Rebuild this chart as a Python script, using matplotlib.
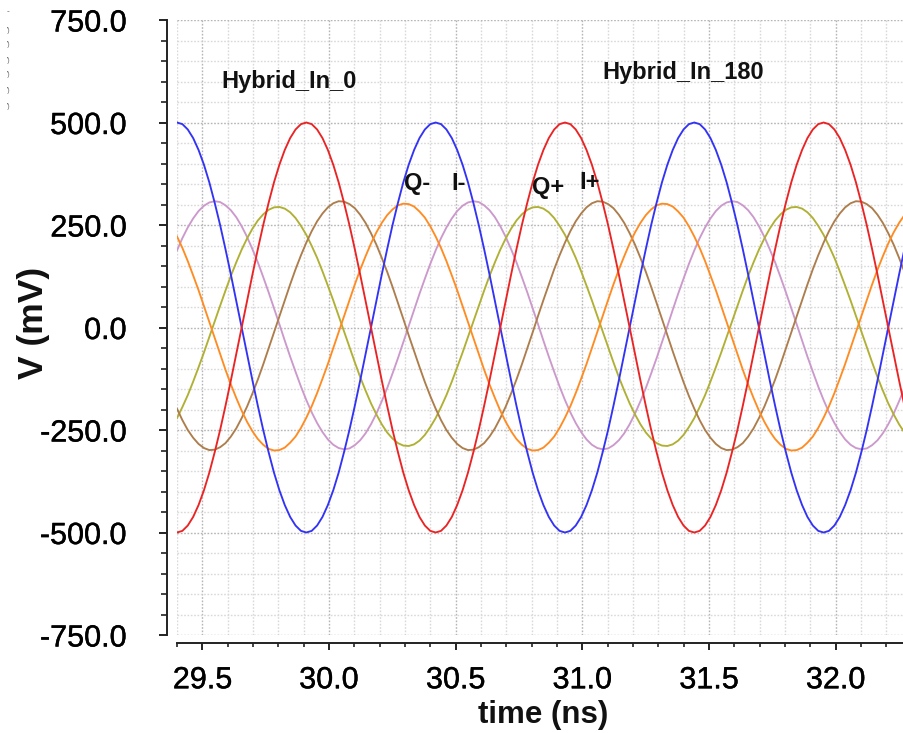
import numpy as np
import matplotlib
matplotlib.use("Agg")
import matplotlib.pyplot as plt
import matplotlib.patheffects as pe
from matplotlib.ticker import MultipleLocator, FuncFormatter

plt.rcParams['font.family'] = ['Liberation Sans', 'DejaVu Sans']

# Sample instants (ns) of the transient waveforms
time_ns = np.round(np.linspace(29.400, 32.293, 137), 4)

# Hybrid input pair (mV)
hyb_in_0_mv = [
    500, 496, 483, 462, 433, 397, 354, 304, 250, 191, 129, 65,
    0, -65, -129, -191, -250, -304, -354, -397, -433, -462, -483, -496,
    -500, -496, -483, -462, -433, -397, -354, -304, -250, -191, -129, -65,
    0, 65, 129, 191, 250, 304, 354, 397, 433, 462, 483, 496,
    500, 496, 483, 462, 433, 397, 354, 304, 250, 191, 129, 65,
    0, -65, -129, -191, -250, -304, -354, -397, -433, -462, -483, -496,
    -500, -496, -483, -462, -433, -397, -354, -304, -250, -191, -129, -65,
    0, 65, 129, 191, 250, 304, 354, 397, 433, 462, 483, 496,
    500, 496, 483, 462, 433, 397, 354, 304, 250, 191, 129, 65,
    0, -65, -129, -191, -250, -304, -354, -397, -433, -462, -483, -496,
    -500, -496, -483, -462, -433, -397, -354, -304, -250, -191, -129, -65,
    0, 65, 129, 191, 250,
]
hyb_in_180_mv = [
    -500, -496, -483, -462, -433, -397, -354, -304, -250, -191, -129, -65,
    0, 65, 129, 191, 250, 304, 354, 397, 433, 462, 483, 496,
    500, 496, 483, 462, 433, 397, 354, 304, 250, 191, 129, 65,
    0, -65, -129, -191, -250, -304, -354, -397, -433, -462, -483, -496,
    -500, -496, -483, -462, -433, -397, -354, -304, -250, -191, -129, -65,
    0, 65, 129, 191, 250, 304, 354, 397, 433, 462, 483, 496,
    500, 496, 483, 462, 433, 397, 354, 304, 250, 191, 129, 65,
    0, -65, -129, -191, -250, -304, -354, -397, -433, -462, -483, -496,
    -500, -496, -483, -462, -433, -397, -354, -304, -250, -191, -129, -65,
    0, 65, 129, 191, 250, 304, 354, 397, 433, 462, 483, 496,
    500, 496, 483, 462, 433, 397, 354, 304, 250, 191, 129, 65,
    0, -65, -129, -191, -250,
]

# Quadrature outputs (mV)
i_minus_mv = [
    188, 218, 244, 266, 284, 297, 305, 308, 306, 298, 286, 269,
    247, 221, 191, 159, 123, 86, 47, 8, -32, -71, -108, -144,
    -177, -207, -233, -255, -273, -286, -294, -297, -295, -287, -275, -258,
    -236, -210, -180, -148, -112, -75, -36, 3, 43, 82, 119, 155,
    188, 218, 244, 266, 284, 297, 305, 308, 306, 298, 286, 269,
    247, 221, 191, 159, 123, 86, 47, 8, -32, -71, -108, -144,
    -177, -207, -233, -255, -273, -286, -294, -297, -295, -287, -275, -258,
    -236, -210, -180, -148, -112, -75, -36, 3, 43, 82, 119, 155,
    188, 218, 244, 266, 284, 297, 305, 308, 306, 298, 286, 269,
    247, 221, 191, 159, 123, 86, 47, 8, -32, -71, -108, -144,
    -177, -207, -233, -255, -273, -286, -294, -297, -295, -287, -275, -258,
    -236, -210, -180, -148, -112,
]
q_plus_mv = [
    -221, -194, -165, -132, -97, -61, -23, 15, 53, 90, 126, 159,
    190, 217, 241, 261, 276, 287, 293, 294, 290, 281, 267, 248,
    226, 199, 170, 137, 102, 66, 28, -10, -48, -85, -121, -154,
    -185, -212, -236, -256, -271, -282, -288, -289, -285, -276, -262, -243,
    -221, -194, -165, -132, -97, -61, -23, 15, 53, 90, 126, 159,
    190, 217, 241, 261, 276, 287, 293, 294, 290, 281, 267, 248,
    226, 199, 170, 137, 102, 66, 28, -10, -48, -85, -121, -154,
    -185, -212, -236, -256, -271, -282, -288, -289, -285, -276, -262, -243,
    -221, -194, -165, -132, -97, -61, -23, 15, 53, 90, 126, 159,
    190, 217, 241, 261, 276, 287, 293, 294, 290, 281, 267, 248,
    226, 199, 170, 137, 102, 66, 28, -10, -48, -85, -121, -154,
    -185, -212, -236, -256, -271,
]
i_plus_mv = [
    -198, -226, -250, -269, -284, -294, -299, -298, -292, -282, -266, -246,
    -221, -193, -161, -127, -90, -51, -12, 28, 67, 105, 142, 176,
    207, 235, 259, 278, 293, 303, 308, 307, 301, 291, 275, 255,
    230, 202, 170, 136, 99, 60, 21, -19, -58, -96, -133, -167,
    -198, -226, -250, -269, -284, -294, -299, -298, -292, -282, -266, -246,
    -221, -193, -161, -127, -90, -51, -12, 28, 67, 105, 142, 176,
    207, 235, 259, 278, 293, 303, 308, 307, 301, 291, 275, 255,
    230, 202, 170, 136, 99, 60, 21, -19, -58, -96, -133, -167,
    -198, -226, -250, -269, -284, -294, -299, -298, -292, -282, -266, -246,
    -221, -193, -161, -127, -90, -51, -12, 28, 67, 105, 142, 176,
    207, 235, 259, 278, 293, 303, 308, 307, 301, 291, 275, 255,
    230, 202, 170, 136, 99,
]
q_minus_mv = [
    222, 194, 162, 127, 91, 52, 13, -26, -65, -103, -139, -172,
    -203, -230, -253, -272, -286, -296, -300, -299, -293, -281, -266, -245,
    -220, -192, -160, -125, -89, -50, -11, 28, 67, 105, 141, 174,
    205, 232, 255, 274, 288, 298, 302, 301, 295, 283, 268, 247,
    222, 194, 162, 127, 91, 52, 13, -26, -65, -103, -139, -172,
    -203, -230, -253, -272, -286, -296, -300, -299, -293, -281, -266, -245,
    -220, -192, -160, -125, -89, -50, -11, 28, 67, 105, 141, 174,
    205, 232, 255, 274, 288, 298, 302, 301, 295, 283, 268, 247,
    222, 194, 162, 127, 91, 52, 13, -26, -65, -103, -139, -172,
    -203, -230, -253, -272, -286, -296, -300, -299, -293, -281, -266, -245,
    -220, -192, -160, -125, -89, -50, -11, 28, 67, 105, 141, 174,
    205, 232, 255, 274, 288,
]

y_ticks = [-750, -500, -250, 0, 250, 500, 750]
x_ticks = [29.5, 30.0, 30.5, 31.0, 31.5, 32.0]

W, H = 904, 733
fig = plt.figure(figsize=(W / 100, H / 100), dpi=100)
ax = fig.add_axes([177 / W, 1 - 635 / H, 1 - 177 / W, (635 - 20) / H])

traces = [
    (i_minus_mv, '#cc99cc'),
    (q_plus_mv, '#b0b034'),
    (i_plus_mv, '#ad7d4c'),
    (q_minus_mv, '#ff8c22'),
    (hyb_in_0_mv, '#3333f5'),
    (hyb_in_180_mv, '#ea2424'),
]
for vals, col in traces:
    ax.plot(time_ns, vals, color=col, lw=1.35, solid_joinstyle='round')

ax.set_xlim(29.40, 32.27)
ax.set_ylim(-750, 750)

ax.xaxis.set_minor_locator(MultipleLocator(0.1))
ax.yaxis.set_minor_locator(MultipleLocator(50))
ax.set_xticks(x_ticks)
ax.set_yticks(y_ticks)
ax.xaxis.set_major_formatter(FuncFormatter(lambda v, p: f"{v:.1f}"))
ax.yaxis.set_major_formatter(FuncFormatter(lambda v, p: f"{v:.1f}"))

ax.grid(which='major', color='#b5b5b5', linestyle=(0, (1.2, 1.2)), linewidth=1.0)
ax.grid(which='minor', color='#d9d9d9', linestyle=(0, (1.2, 1.2)), linewidth=1.0)
ax.set_axisbelow(True)

for s in ('top', 'right'):
    ax.spines[s].set_visible(False)
ax.spines['left'].set_position(('outward', 7.2))
ax.spines['bottom'].set_position(('outward', 5.8))
for s in ('left', 'bottom'):
    ax.spines[s].set_linewidth(1.4)
    ax.spines[s].set_color('#222222')

ax.tick_params(axis='y', which='major', length=6, width=1.4, pad=23,
               labelsize=22, labelcolor='#000000', color='#222222')
ax.tick_params(axis='y', which='minor', length=4.5, width=1.2, color='#222222')
ax.tick_params(axis='x', which='major', length=5, width=1.4, pad=11,
               labelsize=22, labelcolor='#000000', color='#222222')
ax.tick_params(axis='x', which='minor', length=3, width=1.2, color='#222222')

# slightly heavier tick numerals
heavy = [pe.withStroke(linewidth=0.3, foreground='#000000')]
for lab in ax.get_xticklabels() + ax.get_yticklabels():
    lab.set_path_effects(heavy)

fig.text(33 / W, 1 - 323 / H, 'V (mV)', rotation=90, ha='center', va='center',
         fontsize=25.5, fontweight='bold', color='#111111')
fig.text(543 / W, 1 - 723 / H, 'time (ns)', ha='center', va='baseline',
         fontsize=22.5, fontweight='bold', color='#111111')

labels = [
    ('Hybrid_In_0', 289, 88),
    ('Hybrid_In_180', 683, 79),
    ('Q-', 417, 190),
    ('I-', 459, 190),
    ('Q+', 548, 194),
    ('I+', 590, 189),
]
for txt, px, py in labels:
    fig.text(px / W, 1 - py / H, txt, ha='center', va='baseline',
             fontsize=17, fontweight='bold', color='#111111')

# small clipped marks at the far left margin
fig.text(8 / W, 1 - 12 / H, '-', ha='center', va='center', fontsize=6, color='#555555')
for py in (30, 45, 60, 75, 90, 106):
    fig.text(8 / W, 1 - py / H, "')", ha='center', va='center', fontsize=5, color='#666666')

fig.savefig('out.png', dpi=100, facecolor='white')
